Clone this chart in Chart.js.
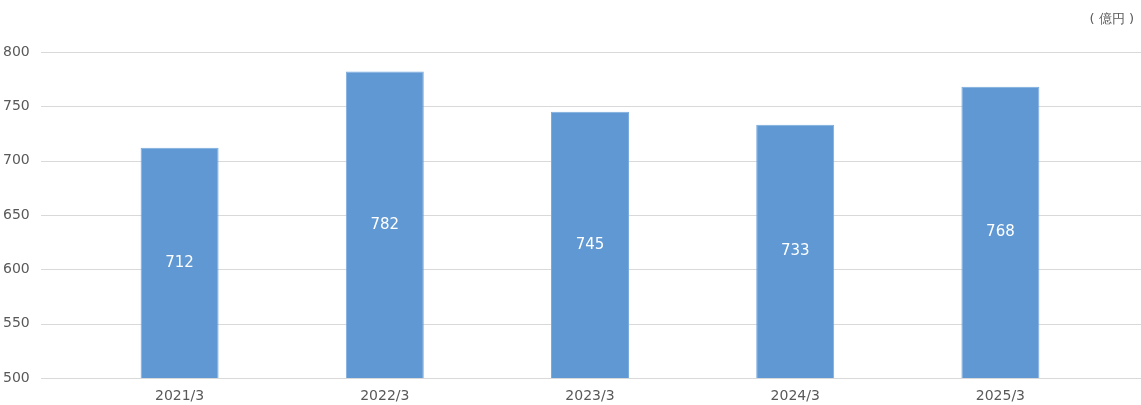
<!DOCTYPE html>
<html lang="ja">
<head>
<meta charset="utf-8">
<script src="https://cdn.jsdelivr.net/npm/chart.js@4.4.1/dist/chart.umd.min.js"></script>
<style>
  html, body { margin: 0; padding: 0; background: #fff; overflow: hidden; }
  canvas { display: block; }
</style>
</head>
<body>
<canvas id="salesChart" width="1141" height="405"></canvas>
<script>
// ── data ──
const categories = ['2021/3', '2022/3', '2023/3', '2024/3', '2025/3'];
const salesValues = [712, 782, 745, 733, 768];
const unitLabel = '( 億円 )';
const yMin = 500, yMax = 800, yStep = 50;

const tc = '#595959';
const gc = '#d9d9d9';
const fontFamily = '"DejaVu Sans", Verdana, sans-serif';

// full-width horizontal gridlines + unit label
const gridPlugin = {
    id: 'fullGrid',
    beforeDatasetsDraw(chart) {
        const { ctx, scales: { y } } = chart;
        ctx.save();
        ctx.strokeStyle = gc;
        ctx.lineWidth = 1;
        y.ticks.forEach(t => {
            const py = Math.round(y.getPixelForValue(t.value)) + 0.5;
            ctx.beginPath();
            ctx.moveTo(41, py);
            ctx.lineTo(chart.width, py);
            ctx.stroke();
        });
        ctx.fillStyle = tc;
        ctx.font = '13px ' + fontFamily;
        ctx.textAlign = 'right';
        ctx.textBaseline = 'middle';
        ctx.fillText(unitLabel, 1134, 20);
        ctx.restore();
    }
};

// value labels in the middle of each bar
const valuePlugin = {
    id: 'barValues',
    afterDraw(chart) {
        const { ctx, scales: { x, y } } = chart;
        ctx.save();
        ctx.fillStyle = '#ffffff';
        ctx.font = '15px ' + fontFamily;
        ctx.textAlign = 'center';
        ctx.textBaseline = 'middle';
        salesValues.forEach((v, i) => {
            const mid = (y.getPixelForValue(v) + y.getPixelForValue(yMin)) / 2;
            ctx.fillText(String(v), x.getPixelForValue(i), mid);
        });
        ctx.restore();
    }
};

new Chart(document.getElementById('salesChart'), {
    type: 'bar',
    data: {
        labels: categories,
        datasets: [{
            label: '売上高',
            data: salesValues,
            backgroundColor: '#5f98d2',
            borderColor: '#7aaade',
            borderWidth: 1,
            barPercentage: 0.38,
            categoryPercentage: 1.0
        }]
    },
    options: {
        responsive: false,
        animation: false,
        layout: { padding: { top: 52, right: 38, bottom: 0, left: 3 } },
        plugins: { legend: { display: false }, tooltip: { enabled: false } },
        scales: {
            x: {
                grid: { display: false, drawTicks: false },
                border: { display: false },
                ticks: { color: tc, font: { family: fontFamily, size: 14 }, padding: 10 },
                afterFit: s => { s.height = 27; }
            },
            y: {
                min: yMin, max: yMax,
                grid: { display: false, drawTicks: false },
                border: { display: false },
                ticks: { stepSize: yStep, color: tc, font: { family: fontFamily, size: 14 }, padding: 0, crossAlign: 'far' },
                afterFit: s => { s.width = 74; }
            }
        }
    },
    plugins: [gridPlugin, valuePlugin]
});
</script>
</body>
</html>
